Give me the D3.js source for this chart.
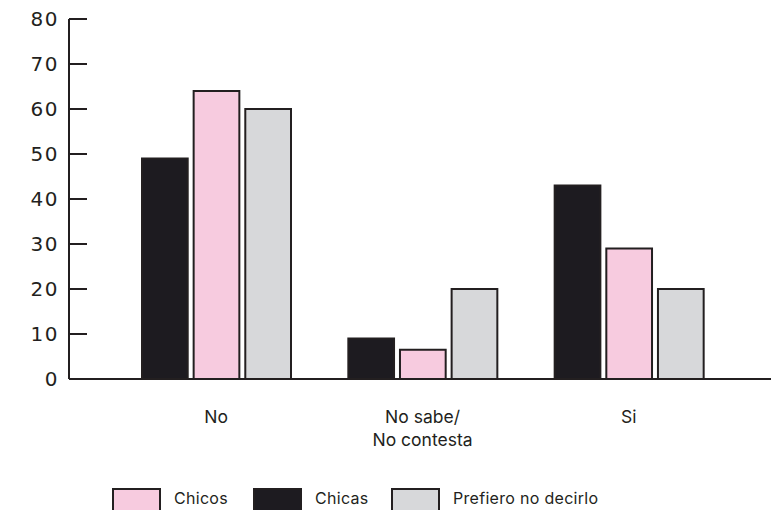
<!DOCTYPE html>
<html>
<head>
<meta charset="utf-8">
<script src="https://cdn.jsdelivr.net/npm/d3@7"></script>
<style>
  html, body { margin: 0; padding: 0; background: #fff; }
  svg { display: block; font-family: Inter, "Noto Sans", sans-serif; }
</style>
</head>
<body>
<svg id="chart" width="771" height="510"></svg>
<script>
// Response categories (x axis); second line of a label after "\n"
const categories = ["No", "No sabe/\nNo contesta", "Si"];
// Series in drawing order within each group
const seriesNames = ["Chicas", "Chicos", "Prefiero no decirlo"];
const chicas = [49, 9, 43];
const chicos = [64, 6.5, 29];
const prefiero = [60, 20, 20];
// Legend order
const legendOrder = ["Chicos", "Chicas", "Prefiero no decirlo"];
const yTicks = [0, 10, 20, 30, 40, 50, 60, 70, 80];

const values = { "Chicas": chicas, "Chicos": chicos, "Prefiero no decirlo": prefiero };
const fills = { "Chicas": "#1d1b20", "Chicos": "#f7cbdf", "Prefiero no decirlo": "#d7d8da" };
const ink = "#231f20";

const svg = d3.select("#chart");

const y = d3.scaleLinear().domain([0, 80]).range([379, 19]);
const x0 = d3.scaleBand().domain(categories).range([113, 732]).padding(0);
const x1 = d3.scaleBand().domain(seriesNames).range([29, 178]).paddingInner(0.115).paddingOuter(0);

// Y axis
const yAxis = svg.append("g").attr("transform", "translate(69,0)");
yAxis.append("line").attr("x1", 0).attr("x2", 0).attr("y1", y(80)).attr("y2", y(0))
  .attr("stroke", ink).attr("stroke-width", 2);
yAxis.selectAll("line.tick").data(yTicks).join("line").attr("class", "tick")
  .attr("x1", 0).attr("x2", 18).attr("y1", d => y(d)).attr("y2", d => y(d))
  .attr("stroke", ink).attr("stroke-width", 2);
yAxis.selectAll("text").data(yTicks).join("text")
  .attr("x", -10).attr("y", d => y(d)).attr("dy", "0.36em")
  .attr("text-anchor", "end").attr("font-size", 20).attr("fill", ink)
  .attr("font-family", "'DejaVu Sans', sans-serif").attr("letter-spacing", 1.5)
  .text(d => d);

// Bars
const groups = svg.append("g").selectAll("g").data(categories).join("g")
  .attr("transform", d => `translate(${x0(d)},0)`);
groups.selectAll("rect").data((c, i) => seriesNames.map(s => ({ s, v: values[s][i] }))).join("rect")
  .attr("x", d => x1(d.s))
  .attr("y", d => y(d.v))
  .attr("width", x1.bandwidth())
  .attr("height", d => y(0) - y(d.v))
  .attr("fill", d => fills[d.s])
  .attr("stroke", ink).attr("stroke-width", 2);

// Baseline
svg.append("line").attr("x1", 69).attr("x2", 771).attr("y1", y(0)).attr("y2", y(0))
  .attr("stroke", ink).attr("stroke-width", 2);

// Category labels
svg.append("g").selectAll("text").data(categories).join("text")
  .attr("x", d => x0(d) + x0.bandwidth() / 2)
  .attr("y", 423)
  .attr("text-anchor", "middle").attr("font-size", 17.5).attr("fill", ink)
  .each(function (d) {
    const lines = d.split("\n");
    d3.select(this).selectAll("tspan").data(lines).join("tspan")
      .attr("x", x0(d) + x0.bandwidth() / 2)
      .attr("dy", (l, i) => i === 0 ? 0 : 23)
      .text(l => l);
  });

// Legend
const legendX = [113, 254, 392];
const legend = svg.append("g").selectAll("g").data(legendOrder).join("g")
  .attr("transform", (d, i) => `translate(${legendX[i]},489)`);
legend.append("rect").attr("x", 0).attr("y", 0).attr("width", 47).attr("height", 24)
  .attr("fill", d => fills[d]).attr("stroke", ink).attr("stroke-width", 2);
legend.append("text").attr("x", 61).attr("y", 9).attr("dy", "0.36em")
  .attr("font-size", 16).attr("letter-spacing", 0.3).attr("fill", ink).text(d => d);
</script>
</body>
</html>
